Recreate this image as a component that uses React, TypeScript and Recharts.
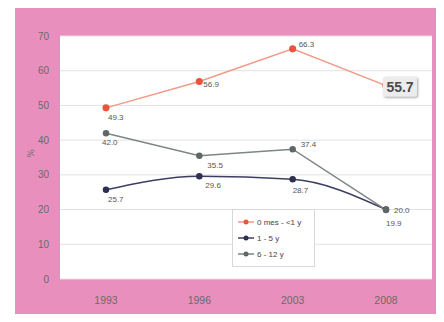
import { LineChart, Line, XAxis, YAxis, CartesianGrid, Legend, LabelList } from 'recharts';

const years = ['1993', '1996', '2003', '2008'];
const infants = [49.3, 56.9, 66.3, 55.7];
const toddlers = [25.7, 29.6, 28.7, 20.0];
const schoolKids = [42.0, 35.5, 37.4, 19.9];
const yTicks = [0, 10, 20, 30, 40, 50, 60, 70];

const seriesNames = ['0 mes - <1 y', '1 - 5 y', '6 - 12 y'];

const data = years.map((year, i) => ({
  year,
  infants: infants[i],
  toddlers: toddlers[i],
  schoolKids: schoolKids[i],
}));

// label offsets (dx, dy) for each point, per series
const infantOffsets = [[2, 12], [4, 6], [6, -2], [0, 0]];
const toddlerOffsets = [[2, 12], [6, 12], [0, 14], [8, 3]];
const kidOffsets = [[-4, 12], [8, 12], [8, -2], [0, 16]];

const makeLabel = (offsets: number[][], boxLast = false) => (props: any) => {
  const { x, y, value, index } = props;
  if (boxLast && index === offsets.length - 1) {
    return (
      <g>
        <rect x={x - 3} y={y - 9} width={34} height={20} fill="#ececec" rx={2}
          style={{ filter: 'drop-shadow(1px 1px 1px rgba(0,0,0,0.35))' }} />
        <text x={x + 14} y={y + 6} textAnchor="middle" fontSize={14} fontWeight="bold"
          fill="#4a4a4a" fontFamily="Liberation Sans, Arial">{Number(value).toFixed(1)}</text>
      </g>
    );
  }
  const [dx, dy] = offsets[index];
  return (
    <text x={x + dx} y={y + dy} fontSize={8} fill="#555" fontFamily="Liberation Sans, Arial">
      {Number(value).toFixed(1)}
    </text>
  );
};

const legendItems = [
  { name: seriesNames[0], line: '#f29a86', dot: '#e8553c' },
  { name: seriesNames[1], line: '#3e3e62', dot: '#2f2f50' },
  { name: seriesNames[2], line: '#7d8585', dot: '#5f6767' },
];

const LegendBox = () => (
  <div style={{ border: '1px solid #d8d8d8', background: '#fff', padding: '4px 5px', width: 71, boxSizing: 'content-box' }}>
    {legendItems.map((it) => (
      <div key={it.name} style={{ display: 'flex', alignItems: 'center', height: 16, fontSize: 8, color: '#444', fontFamily: 'Liberation Sans, Arial' }}>
        <svg width={16} height={8} style={{ marginRight: 3 }}>
          <line x1={0} y1={4} x2={16} y2={4} stroke={it.line} strokeWidth={1.5} />
          <circle cx={8} cy={4} r={2.5} fill={it.dot} />
        </svg>
        {it.name}
      </div>
    ))}
  </div>
);

export default function App() {
  return (
    <div style={{ position: 'relative', width: 444, height: 322, margin: -8, background: '#fff', overflow: 'hidden' }}>
      <div style={{ position: 'absolute', left: 15, top: 7, width: 427, height: 320, background: '#e98fbe' }} />
      <div style={{ position: 'absolute', left: 0, top: 0 }}>
        <LineChart width={444} height={322} data={data} margin={{ top: 36, right: 12, left: 30, bottom: 13 }}>
          <CartesianGrid vertical={false} stroke="#e2e2e2" fill="#fff" />
          <XAxis dataKey="year" axisLine={false} tickLine={false} tickMargin={12}
            padding={{ left: 46, right: 46 }} height={30}
            tick={{ fontSize: 10.5, fill: '#6a6a6a', fontFamily: 'Liberation Sans, Arial' }} />
          <YAxis domain={[0, 70]} ticks={yTicks} width={30} axisLine={false} tickLine={false} tickMargin={5}
            tick={{ fontSize: 10, fill: '#6a6a6a', fontFamily: 'Liberation Sans, Arial' }}
            label={{ value: '%', angle: -90, position: 'insideLeft', offset: 0, fontSize: 10, fill: '#666' }} />
          <Legend content={<LegendBox />} layout="vertical" align="center" verticalAlign="middle"
            wrapperStyle={{ position: 'absolute', left: 232, top: 209, width: 84 }} />
          <Line type="linear" dataKey="infants" name={seriesNames[0]} stroke="#f29a86" strokeWidth={1.5}
            dot={{ r: 2.8, fill: '#e8553c', stroke: '#e8553c' }} isAnimationActive={false}>
            <LabelList dataKey="infants" content={makeLabel(infantOffsets, true)} />
          </Line>
          <Line type="monotone" dataKey="toddlers" name={seriesNames[1]} stroke="#3e3e62" strokeWidth={1.5}
            dot={{ r: 2.5, fill: '#2f2f50', stroke: '#2f2f50' }} isAnimationActive={false}>
            <LabelList dataKey="toddlers" content={makeLabel(toddlerOffsets)} />
          </Line>
          <Line type="linear" dataKey="schoolKids" name={seriesNames[2]} stroke="#7d8585" strokeWidth={1.5}
            dot={{ r: 2.5, fill: '#5f6767', stroke: '#5f6767' }} isAnimationActive={false}>
            <LabelList dataKey="schoolKids" content={makeLabel(kidOffsets)} />
          </Line>
        </LineChart>
      </div>
    </div>
  );
}
